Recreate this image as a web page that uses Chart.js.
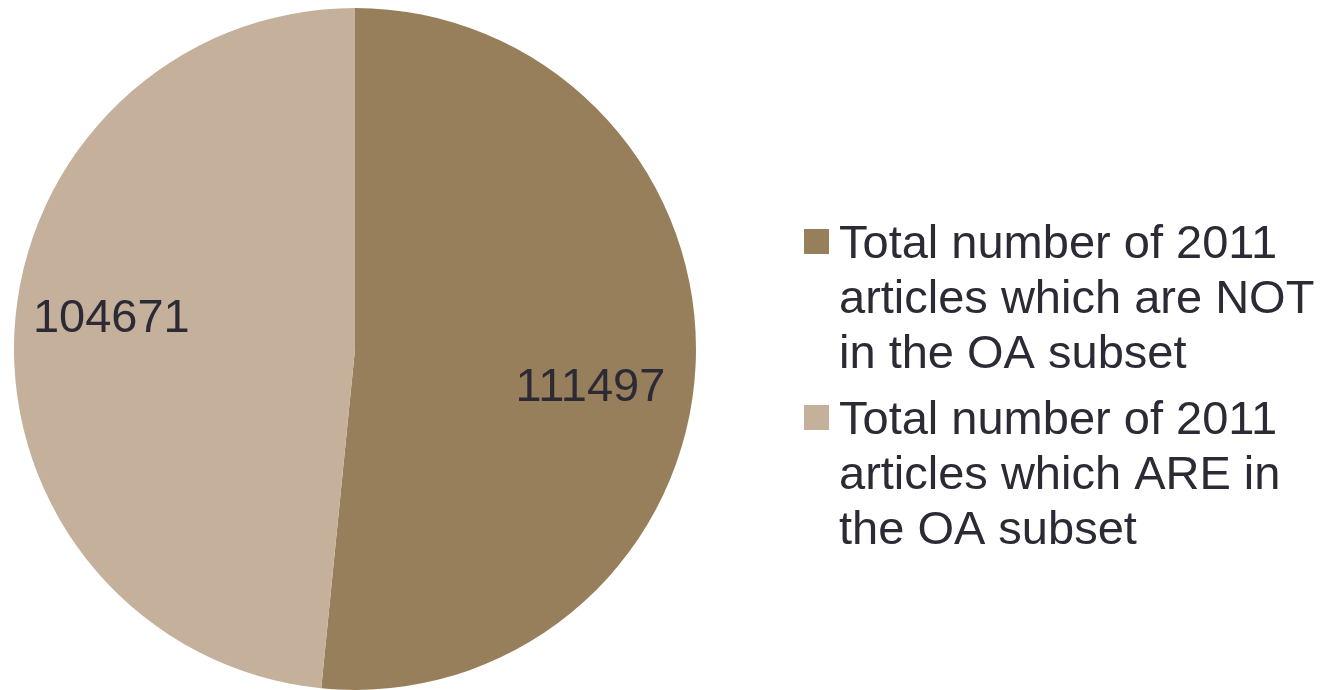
<!DOCTYPE html>
<html>
<head>
<meta charset="utf-8">
<script src="https://cdn.jsdelivr.net/npm/chart.js@4/dist/chart.umd.min.js"></script>
<style>
  html, body { margin: 0; padding: 0; background: #fff; }
  #wrap { width: 1328px; height: 690px; position: relative; }
</style>
</head>
<body>
<div id="wrap"><canvas id="c"></canvas></div>
<script>
'use strict';

// slices, in drawing order (clockwise from 12 o'clock)
var categories = [
  ['Total number of 2011', 'articles which are NOT', 'in the OA subset'],
  ['Total number of 2011', 'articles which ARE in', 'the OA subset']
];
var articleCounts = [111497, 104671];
var sliceColors = ['#987f5b', '#c4b09b'];

var textColor = '#2b2a35';
var fontFamily = '"Liberation Sans", Arial, Helvetica, sans-serif';

// value labels drawn on the slices
var sliceLabels = {
  id: 'sliceLabels',
  afterDatasetsDraw: function (chart, args, opts) {
    var ctx = chart.ctx;
    var meta = chart.getDatasetMeta(0);
    ctx.save();
    ctx.font = opts.size + 'px ' + fontFamily;
    ctx.fillStyle = textColor;
    ctx.textAlign = 'center';
    ctx.textBaseline = 'middle';
    meta.data.forEach(function (arc, i) {
      var p = arc.getProps(['x', 'y', 'startAngle', 'endAngle', 'outerRadius'], true);
      var mid = (p.startAngle + p.endAngle) / 2 + opts.shift[i] * Math.PI / 180;
      var r = p.outerRadius * opts.radius[i];
      ctx.fillText(String(chart.data.datasets[0].data[i]), p.x + Math.cos(mid) * r, p.y + Math.sin(mid) * r);
    });
    ctx.restore();
  }
};

// legend on the right, multi-line entries
var sideLegend = {
  id: 'sideLegend',
  afterDraw: function (chart, args, opts) {
    var ctx = chart.ctx;
    var colors = chart.data.datasets[0].backgroundColor;
    var y = opts.top;
    ctx.save();
    ctx.font = opts.size + 'px ' + fontFamily;
    ctx.textBaseline = 'alphabetic';
    ctx.textAlign = 'left';
    chart.data.labels.forEach(function (lines, i) {
      ctx.fillStyle = colors[i];
      ctx.fillRect(opts.boxX, y - opts.boxRise, opts.box, opts.box);
      ctx.fillStyle = textColor;
      lines.forEach(function (line, j) {
        ctx.fillText(line, opts.textX, y + j * opts.lineHeight);
      });
      y += lines.length * opts.lineHeight + opts.gap;
    });
    ctx.restore();
  }
};

new Chart(document.getElementById('c'), {
  type: 'pie',
  data: {
    labels: categories,
    datasets: [{
      data: articleCounts,
      backgroundColor: sliceColors,
      borderWidth: 0
    }]
  },
  options: {
    responsive: true,
    maintainAspectRatio: false,
    animation: false,
    layout: { padding: { left: 13, right: 631, top: 8, bottom: 0 } },
    plugins: {
      legend: { display: false },
      tooltip: { enabled: false },
      sliceLabels: { size: 47, radius: [0.70, 0.72], shift: [6.6, 4.2] },
      sideLegend: {
        size: 47, top: 258, lineHeight: 55, gap: 11,
        boxX: 804, box: 25, boxRise: 29, textX: 839
      }
    }
  },
  plugins: [sliceLabels, sideLegend]
});
</script>
</body>
</html>
